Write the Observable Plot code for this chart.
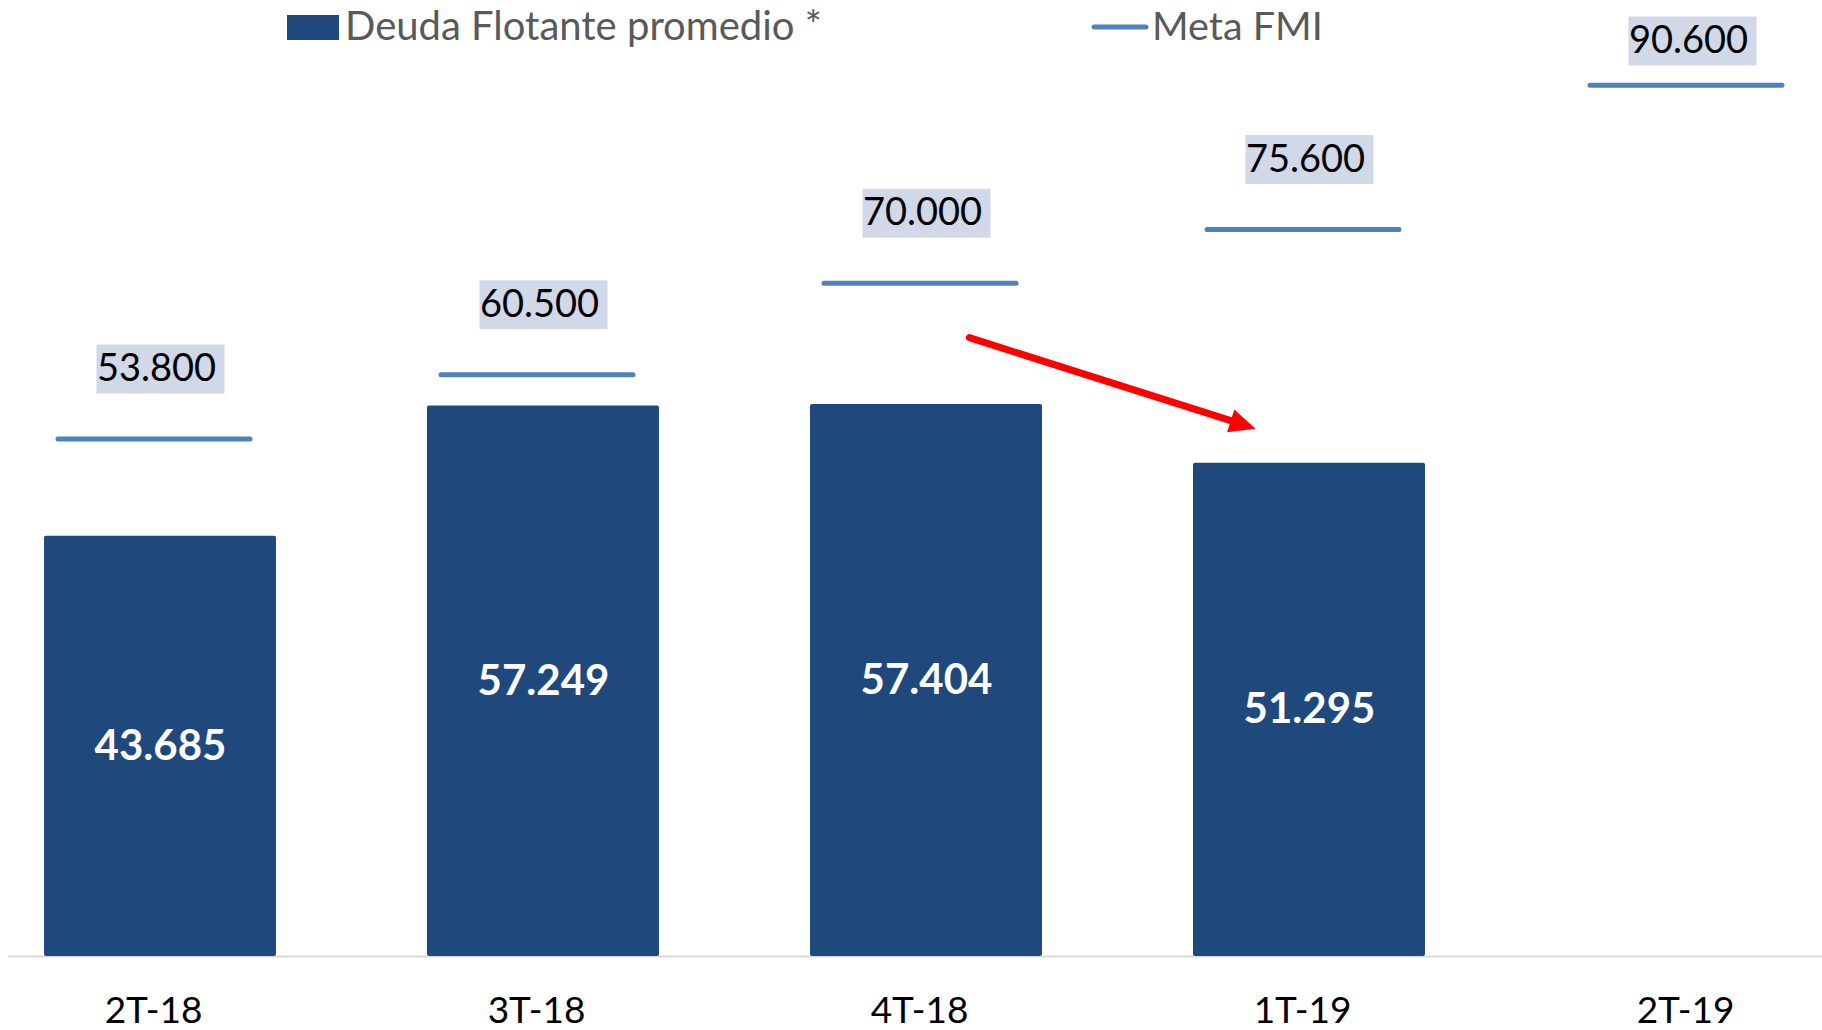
<!DOCTYPE html>
<html>
<head>
<meta charset="utf-8">
<script src="https://cdn.jsdelivr.net/npm/d3@7"></script>
<script src="https://cdn.jsdelivr.net/npm/@observablehq/plot@0.6"></script>
<style>
  html, body { margin: 0; padding: 0; background: #ffffff; }
  #wrap { position: relative; width: 1822px; height: 1030px; overflow: hidden; font-family: Lato, "Open Sans", sans-serif; }
  #legend { position: absolute; left: 0; top: 0; }
</style>
</head>
<body>
<div id="wrap">
  <div id="chart"></div>
  <svg id="legend" width="1822" height="60"></svg>
</div>
<script>
// ---- data ----
const categories = ["2T-18", "3T-18", "4T-18", "1T-19", "2T-19"];
const deudaFlotante = [43685, 57249, 57404, 51295, null];
const metaFMI = [53800, 60500, 70000, 75600, 90600];
const arrowCats = ["4T-18", "1T-19"];
const arrowValues = [65760, 53110];
const yDomain = [0, 99400];
const legendLabels = ["Deuda Flotante promedio *", "Meta FMI"];

// ---- styles ----
const barColor = "#1F497D";
const metaColor = "#4F81BD";
const boxColor = "#D1D8E8";
const arrowColor = "#FF0000";
const font = "Lato, 'Open Sans', sans-serif";

const es = d3.formatLocale({decimal: ",", thousands: ".", grouping: [3], currency: ["", " €"]});
const fmt = es.format(",d");

const rows = categories.map((c, i) => ({cat: c, deuda: deudaFlotante[i], meta: metaFMI[i]}));
const bars = rows.filter(d => d.deuda != null);
const topCut = 85000;
const labelsNormal = rows.filter(d => d.meta < topCut);
const labelsTop = rows.filter(d => d.meta >= topCut);
const arrows = [{x1: arrowCats[0], x2: arrowCats[1], y1: arrowValues[0], y2: arrowValues[1]}];

const boxW = 128, boxH = 49;
const boxSymbol = {
  draw(ctx) {
    ctx.moveTo(-boxW / 2, -boxH / 2);
    ctx.lineTo(boxW / 2, -boxH / 2);
    ctx.lineTo(boxW / 2, boxH / 2);
    ctx.lineTo(-boxW / 2, boxH / 2);
    ctx.closePath();
  }
};

// filled arrow head (tip at origin), rotated along the arrow direction
const headAngle = Math.atan2(91, 287);
const headLen = 26, headHalf = 12;
const headSymbol = {
  draw(ctx) {
    const c = Math.cos(headAngle), s = Math.sin(headAngle);
    const pt = (x, y) => [x * c - y * s, x * s + y * c];
    const a = pt(0, 0), b = pt(-headLen, -headHalf), d = pt(-headLen, headHalf);
    ctx.moveTo(a[0], a[1]);
    ctx.lineTo(b[0], b[1]);
    ctx.lineTo(d[0], d[1]);
    ctx.closePath();
  }
};

const labelSize = 38;

const chart = Plot.plot({
  width: 1822,
  height: 1030,
  marginTop: 0,
  marginBottom: 74,
  marginLeft: 8,
  marginRight: 0,
  style: {fontFamily: font, background: "transparent", overflow: "hidden"},
  x: {domain: categories, range: [-33, 1884], paddingInner: 0.395, paddingOuter: 0.1975, axis: null},
  y: {domain: yDomain, axis: null},
  marks: [
    Plot.ruleY([0], {stroke: "#D9D9D9", strokeWidth: 2}),
    Plot.barY(bars, {x: "cat", y: "deuda", fill: barColor, rx: 2}),
    Plot.tickY(rows, {x: "cat", y: "meta", stroke: metaColor, strokeWidth: 5, strokeLinecap: "round", insetLeft: 14, insetRight: 26}),
    Plot.dot(labelsNormal, {x: "cat", y: "meta", dy: -70, symbol: boxSymbol, fill: boxColor, stroke: null, r: 10}),
    Plot.text(labelsNormal, {x: "cat", y: "meta", dy: -70, dx: -4, text: d => fmt(d.meta), fill: "#000000", fontSize: labelSize, lineAnchor: "middle"}),
    Plot.dot(labelsTop, {x: "cat", frameAnchor: "top", dy: 40.5, symbol: boxSymbol, fill: boxColor, stroke: null, r: 10}),
    Plot.text(labelsTop, {x: "cat", frameAnchor: "top", dy: 40.5, dx: -4, text: d => fmt(d.meta), fill: "#000000", fontSize: labelSize, lineAnchor: "middle"}),
    Plot.text(bars, {x: "cat", y: d => d.deuda / 2, text: d => fmt(d.deuda), fill: "#FFFFFF", fontWeight: "bold", fontSize: 42}),
    Plot.arrow(arrows, {x1: "x1", y1: "y1", x2: "x2", y2: "y2", stroke: arrowColor, strokeWidth: 7, headLength: 0, insetStart: 45, insetEnd: 76}),
    Plot.dot(arrows, {x: "x2", y: "y2", dx: -54, dy: -17, symbol: headSymbol, fill: arrowColor, stroke: null, r: 10}),
    Plot.axisX({tickSize: 0, tickPadding: 40, fontSize: 37, fill: "#000000", dx: -7, label: null})
  ]
});
document.getElementById("chart").appendChild(chart);

// ---- legend (overlay at top) ----
const lg = d3.select("#legend");
lg.append("rect").attr("x", 287).attr("y", 15).attr("width", 52).attr("height", 25).attr("fill", barColor);
lg.append("text").attr("x", 345).attr("y", 40).attr("fill", "#595959").attr("font-size", 40).attr("font-family", font).text(legendLabels[0]);
lg.append("line").attr("x1", 1094).attr("x2", 1146).attr("y1", 27).attr("y2", 27).attr("stroke", metaColor).attr("stroke-width", 5).attr("stroke-linecap", "round");
lg.append("text").attr("x", 1152).attr("y", 40).attr("fill", "#595959").attr("font-size", 39.5).attr("font-family", font).text(legendLabels[1]);
</script>
</body>
</html>
